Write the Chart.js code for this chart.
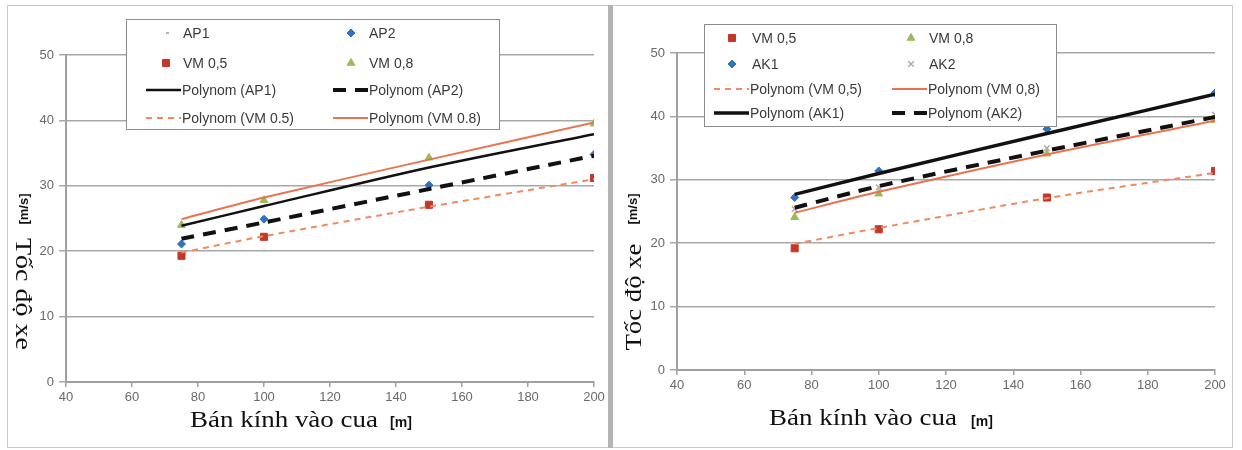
<!DOCTYPE html>
<html>
<head>
<meta charset="utf-8">
<script src="https://cdn.jsdelivr.net/npm/chart.js@4.4.1/dist/chart.umd.min.js"></script>
<style>
  body { margin: 0; background: #fff; width: 1242px; height: 450px; position: relative; overflow: hidden; }
  .panel { position: absolute; top: 5px; height: 441px; border: 1px solid #c8c8c8; box-sizing: content-box; }
  #leftPanel { left: 7px; width: 600px; border-right: none; }
  #rightPanel { left: 613px; width: 619px; border-left: none; }
  #sep { position: absolute; left: 608px; top: 5px; width: 5px; height: 443px; background: #b4b4b4; }
  canvas { position: absolute; top: 1px; }
</style>
</head>
<body>
<div id="leftPanel" class="panel"><canvas id="leftChart" width="600" height="440" style="left:1px"></canvas></div>
<div id="sep"></div>
<div id="rightPanel" class="panel"><canvas id="rightChart" width="618" height="440" style="left:0px"></canvas></div>
<script>
/* ---------------- DATA ---------------- */

const radii = [75, 100, 150, 200];
const xTicks = [40, 60, 80, 100, 120, 140, 160, 180, 200];
const yTicks = [0, 10, 20, 30, 40, 50];

// left chart
const ap1 = [23.9, 27.0, 32.8, 38.0];
const ap2 = [21.1, 24.9, 30.1, 34.8];
const vm05L = [19.3, 22.2, 27.1, 31.2];
const vm08L = [24.0, 27.8, 34.3, 39.5];
const fitAp1 = [23.9, 26.9, 32.8, 37.9];
const fitAp2 = [21.9, 24.4, 29.5, 34.6];
const fitVm05L = [19.8, 22.3, 26.8, 31.0];
const fitVm08L = [24.9, 28.2, 34.0, 39.7];

// right chart
const vm05R = [19.2, 22.2, 27.2, 31.4];
const vm08R = [24.1, 27.8, 34.1, 39.4];
const ak1 = [27.2, 31.4, 38.0, 43.7];
const ak2 = [25.4, 28.8, 35.0, 40.3];
const fitVm05R = [19.9, 22.4, 27.1, 31.1];
const fitVm08R = [24.8, 28.1, 34.0, 39.3];
const fitAk1 = [27.7, 31.0, 37.3, 43.5];
const fitAk2 = [25.6, 29.0, 34.6, 39.9];

/* ---------------- HELPERS ---------------- */

function pts(arr) {
  return radii.map((x, i) => ({ x: x, y: arr[i] }));
}

function markers(label, arr, style, color, radius) {
  return {
    label: label, data: pts(arr), showLine: false,
    pointStyle: style, pointRadius: radius, pointHoverRadius: radius,
    backgroundColor: color, borderColor: color, borderWidth: style === "crossRot" || style === "dash" ? 1.5 : 1,
    order: 2
  };
}

function trend(label, arr, color, width, dash) {
  return {
    label: label, data: pts(arr), showLine: true, pointRadius: 0,
    borderColor: color, backgroundColor: color, borderWidth: width,
    borderDash: dash || [], tension: 0.3, fill: false, order: 1
  };
}

const RED = "#c0392b";
const GREEN = "#9bbb59";
const BLUE = "#2f72c0";
const ORANGE = "#e8744f";
const ORANGE_D = "#f08a60";

/* ---------------- PLUGINS ---------------- */

// legend drawn inside the plot, 2 columns
const boxLegend = {
  id: "boxLegend",
  afterDraw(chart, args, opts) {
    const ctx = chart.ctx;
    const b = opts.box;
    ctx.save();
    ctx.fillStyle = "#fff";
    ctx.fillRect(b[0], b[1], b[2], b[3]);
    ctx.strokeStyle = "#8c8c8c";
    ctx.lineWidth = 1;
    ctx.strokeRect(b[0] + 0.5, b[1] + 0.5, b[2], b[3]);
    ctx.font = "14px 'Liberation Sans', Arial, sans-serif";
    ctx.textBaseline = "middle";
    opts.items.forEach((idx, k) => {
      const ds = chart.data.datasets[idx];
      const col = k % 2, row = Math.floor(k / 2);
      const y = opts.rows[row];
      const c = opts.cols[col];
      ctx.strokeStyle = ds.borderColor;
      ctx.fillStyle = ds.backgroundColor;
      if (ds.showLine) {
        ctx.lineWidth = ds.borderWidth;
        ctx.setLineDash(ds.borderDash || []);
        ctx.beginPath();
        ctx.moveTo(c.line[0], y);
        ctx.lineTo(c.line[1], y);
        ctx.stroke();
        ctx.setLineDash([]);
      } else {
        ctx.lineWidth = ds.borderWidth;
        Chart.helpers.drawPoint(ctx, { pointStyle: ds.pointStyle, radius: ds.pointRadius, borderWidth: ds.borderWidth, rotation: 0 }, c.mark, y);
      }
      ctx.fillStyle = "#3a3a3a";
      ctx.fillText(ds.label, ds.showLine ? c.line[1] + 1 : c.text, y + 1);
    });
    ctx.restore();
  }
};

// axis titles with mixed fonts / directions
const axisText = {
  id: "axisText",
  afterDraw(chart, args, opts) {
    const ctx = chart.ctx;
    opts.items.forEach(t => {
      ctx.save();
      ctx.font = t.font;
      ctx.fillStyle = "#111";
      ctx.textAlign = "center";
      ctx.textBaseline = "middle";
      ctx.translate(t.x, t.y);
      ctx.rotate((t.rot || 0) * Math.PI / 180);
      if (t.width) {
        const w = ctx.measureText(t.text).width;
        ctx.scale(t.width / w, 1);
      }
      ctx.fillText(t.text, 0, 0);
      ctx.restore();
    });
  }
};

const SERIF = "24px 'Liberation Serif', 'Times New Roman', serif";
const BOLD = "bold 14px 'Liberation Sans', Arial, sans-serif";
const BOLD_S = "bold 13px 'Liberation Sans', Arial, sans-serif";

/* ---------------- CHARTS ---------------- */

function scales(yWidth, xHeight) {
  const tickFont = { family: "'Liberation Sans', Arial, sans-serif", size: 13 };
  return {
    x: {
      type: "linear", min: 40, max: 200,
      afterBuildTicks: s => { s.ticks = xTicks.map(v => ({ value: v })); },
      afterFit: s => { s.height = xHeight; },
      grid: { drawOnChartArea: false, drawTicks: true, tickLength: 5, color: "#a0a0a0", lineWidth: 1.5 },
      border: { color: "#a0a0a0", width: 2 },
      ticks: { font: tickFont, color: "#6a6a6a", padding: 3, maxRotation: 0 }
    },
    y: {
      type: "linear", min: 0, max: 50,
      afterBuildTicks: s => { s.ticks = yTicks.map(v => ({ value: v })); },
      afterFit: s => { s.width = yWidth; },
      grid: { color: "#a8a8a8", lineWidth: 1.5, tickLength: 7 },
      border: { color: "#a0a0a0", width: 2 },
      ticks: { font: tickFont, color: "#6a6a6a", padding: 5 }
    }
  };
}

function baseOptions(pad, yWidth, xHeight) {
  return {
    responsive: false,
    animation: false,
    devicePixelRatio: 1,
    layout: { padding: pad },
    scales: scales(yWidth, xHeight),
    plugins: { legend: { display: false }, tooltip: { enabled: false } }
  };
}

const leftOpts = baseOptions({ left: 0, top: 48, right: 15, bottom: 0 }, 57, 65);
leftOpts.plugins.boxLegend = {
  box: [117, 12, 373, 110],
  rows: [26, 56, 83, 111],
  cols: [{ mark: 157, text: 174, line: [137, 172] }, { mark: 342, text: 360, line: [324, 359] }],
  items: [0, 1, 2, 3, 4, 5, 6, 7]
};
leftOpts.plugins.axisText = {
  items: [
    { text: "Bán kính vào cua", font: SERIF, x: 275, y: 414, width: 188 },
    { text: "[m]", font: BOLD, x: 392, y: 416 },
    { text: "[m/s]", font: BOLD_S, x: 15, y: 202, rot: -90 },
    { text: "Tốc độ xe", font: SERIF, x: 13, y: 287, rot: 90, width: 112 }
  ]
};

new Chart(document.getElementById("leftChart"), {
  type: "scatter",
  data: {
    datasets: [
      markers("AP1", ap1, "dash", "#8a9bb5", 3),
      markers("AP2", ap2, "rectRot", BLUE, 4),
      markers("VM 0,5", vm05L, "rect", RED, 5),
      markers("VM 0,8", vm08L, "triangle", GREEN, 4.5),
      trend("Polynom (AP1)", fitAp1, "#111", 2.5),
      trend("Polynom (AP2)", fitAp2, "#111", 4, [13, 9]),
      trend("Polynom (VM 0.5)", fitVm05L, ORANGE_D, 2, [6, 5]),
      trend("Polynom (VM 0.8)", fitVm08L, ORANGE, 2)
    ]
  },
  options: leftOpts,
  plugins: [boxLegend, axisText]
});

const rightOpts = baseOptions({ left: 0, top: 46, right: 16, bottom: 0 }, 64, 77);
rightOpts.plugins.boxLegend = {
  box: [91, 17, 352, 102],
  rows: [31, 57, 82, 106],
  cols: [{ mark: 119, text: 139, line: [101, 136] }, { mark: 298, text: 316, line: [279, 314] }],
  items: [0, 1, 2, 3, 4, 5, 6, 7]
};
rightOpts.plugins.axisText = {
  items: [
    { text: "Bán kính vào cua", font: SERIF, x: 250, y: 412, width: 188 },
    { text: "[m]", font: BOLD, x: 369, y: 415 },
    { text: "[m/s]", font: BOLD_S, x: 20, y: 202, rot: -90 },
    { text: "Tốc độ xe", font: SERIF, x: 22, y: 290, rot: -90, width: 107 }
  ]
};

new Chart(document.getElementById("rightChart"), {
  type: "scatter",
  data: {
    datasets: [
      markers("VM 0,5", vm05R, "rect", RED, 5),
      markers("VM 0,8", vm08R, "triangle", GREEN, 4.5),
      markers("AK1", ak1, "rectRot", BLUE, 4),
      markers("AK2", ak2, "crossRot", "#b8a8a8", 4),
      trend("Polynom (VM 0,5)", fitVm05R, ORANGE_D, 2, [6, 5]),
      trend("Polynom (VM 0,8)", fitVm08R, ORANGE, 2),
      trend("Polynom (AK1)", fitAk1, "#111", 3.5),
      trend("Polynom (AK2)", fitAk2, "#111", 4, [13, 9])
    ]
  },
  options: rightOpts,
  plugins: [boxLegend, axisText]
});
</script>
</body>
</html>
